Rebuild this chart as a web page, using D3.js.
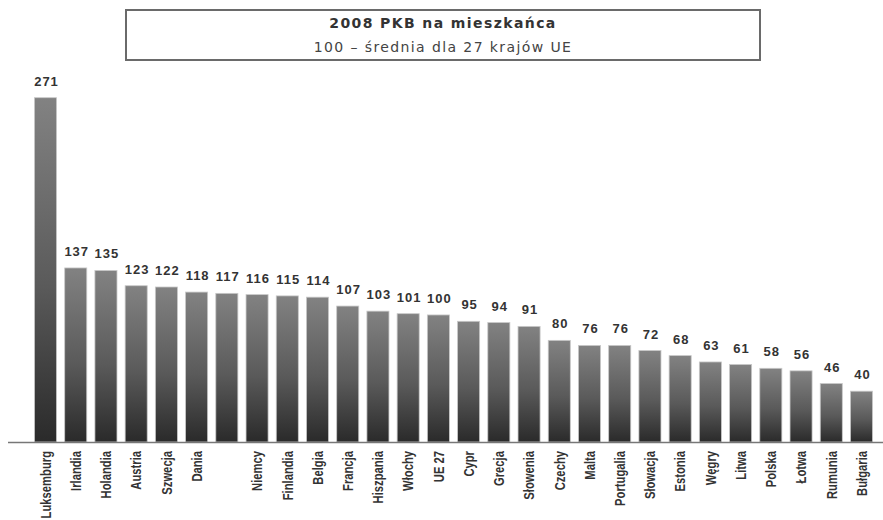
<!DOCTYPE html>
<html>
<head>
<meta charset="utf-8">
<script src="https://cdn.jsdelivr.net/npm/d3@7"></script>
<style>
  body { margin: 0; background: #fff; }
  svg { display: block; }
</style>
</head>
<body>
<svg class="chart"></svg>
<script>
const W = 883, H = 520
const titleLines = ["2008 PKB na mieszkańca", "100 – średnia dla 27 krajów UE"]
const countries = ["Luksemburg", "Irlandia", "Holandia", "Austria", "Szwecja", "Dania", "",
  "Niemcy", "Finlandia", "Belgia", "Francja", "Hiszpania", "Włochy", "UE 27", "Cypr", "Grecja",
  "Słowenia", "Czechy", "Malta", "Portugalia", "Słowacja", "Estonia", "Węgry", "Litwa",
  "Polska", "Łotwa", "Rumunia", "Bułgaria"]
const values = [271, 137, 135, 123, 122, 118, 117, 116, 115, 114, 107, 103, 101, 100, 95, 94,
  91, 80, 76, 76, 72, 68, 63, 61, 58, 56, 46, 40]

const baseY = 442

let svg = d3.select(".chart")
    .attr("width", W)
    .attr("height", H)

// gradient for every bar, light on top, dark at the bottom
let grad = svg.append("defs").append("linearGradient")
    .attr("id", "barGrad")
    .attr("x1", 0).attr("y1", 0).attr("x2", 0).attr("y2", 1)
grad.append("stop").attr("offset", "0%").attr("stop-color", "#828282")
grad.append("stop").attr("offset", "55%").attr("stop-color", "#5a5a5a")
grad.append("stop").attr("offset", "100%").attr("stop-color", "#2a2a2a")

let x = d3.scaleBand()
    .domain(d3.range(values.length))
    .range([30.4, 876.6])
    .paddingInner(0.27)
    .paddingOuter(0.135)
let y = d3.scaleLinear()
    .domain([0, 271])
    .range([baseY, 97.7])

// title box
svg.append("rect")
    .attr("x", 126).attr("y", 10)
    .attr("width", 634).attr("height", 50)
    .attr("fill", "none")
    .attr("stroke", "#6a6a6a")
    .attr("stroke-width", 2)
svg.append("text")
    .attr("x", 443).attr("y", 28)
    .attr("text-anchor", "middle")
    .style("font-family", "DejaVu Sans, Verdana, sans-serif")
    .style("font-weight", "bold")
    .style("font-size", "14px")
    .style("letter-spacing", "1.4px")
    .style("fill", "#333")
    .text(titleLines[0])
svg.append("text")
    .attr("x", 443).attr("y", 52)
    .attr("text-anchor", "middle")
    .style("font-family", "DejaVu Sans, Verdana, sans-serif")
    .style("font-size", "14px")
    .style("letter-spacing", "1.4px")
    .style("fill", "#444")
    .text(titleLines[1])

// bars
svg.selectAll("rect.bar")
    .data(values)
    .enter().append("rect")
    .attr("class", "bar")
    .attr("x", (d, i) => x(i))
    .attr("y", d => y(d))
    .attr("width", x.bandwidth())
    .attr("height", d => baseY - y(d))
    .attr("fill", "url(#barGrad)")
    .attr("stroke", "#c8c8c8")
    .attr("stroke-width", 0.8)

// value labels
svg.selectAll("text.val")
    .data(values)
    .enter().append("text")
    .attr("class", "val")
    .attr("x", (d, i) => x(i) + x.bandwidth() / 2 + 1)
    .attr("y", d => y(d) - 12)
    .attr("text-anchor", "middle")
    .style("font-family", "Liberation Sans, Arial, sans-serif")
    .style("font-weight", "bold")
    .style("font-size", "13px")
    .style("letter-spacing", "1px")
    .style("fill", "#333")
    .text(d => d)

// axis line
let xAxis = d3.axisBottom(x).tickSize(0).tickFormat(i => countries[i])
let axisG = svg.append("g")
    .attr("transform", "translate(0," + baseY + ")")
    .call(xAxis)
axisG.select(".domain").remove()
axisG.append("line")
    .attr("x1", 8).attr("x2", W)
    .attr("y1", 0.5).attr("y2", 0.5)
    .attr("stroke", "#777")
    .attr("stroke-width", 1.6)
// narrow look: squeeze the rotated labels along their length
axisG.selectAll(".tick text")
    .attr("transform", "rotate(-90) scale(0.75,1)")
    .attr("x", -12)
    .attr("y", 0)
    .attr("dy", "0.35em")
    .attr("text-anchor", "end")
    .style("font-family", "Liberation Sans, Arial, sans-serif")
    .style("font-weight", "bold")
    .style("font-size", "15px")
    .style("fill", "#333")
</script>
</body>
</html>
